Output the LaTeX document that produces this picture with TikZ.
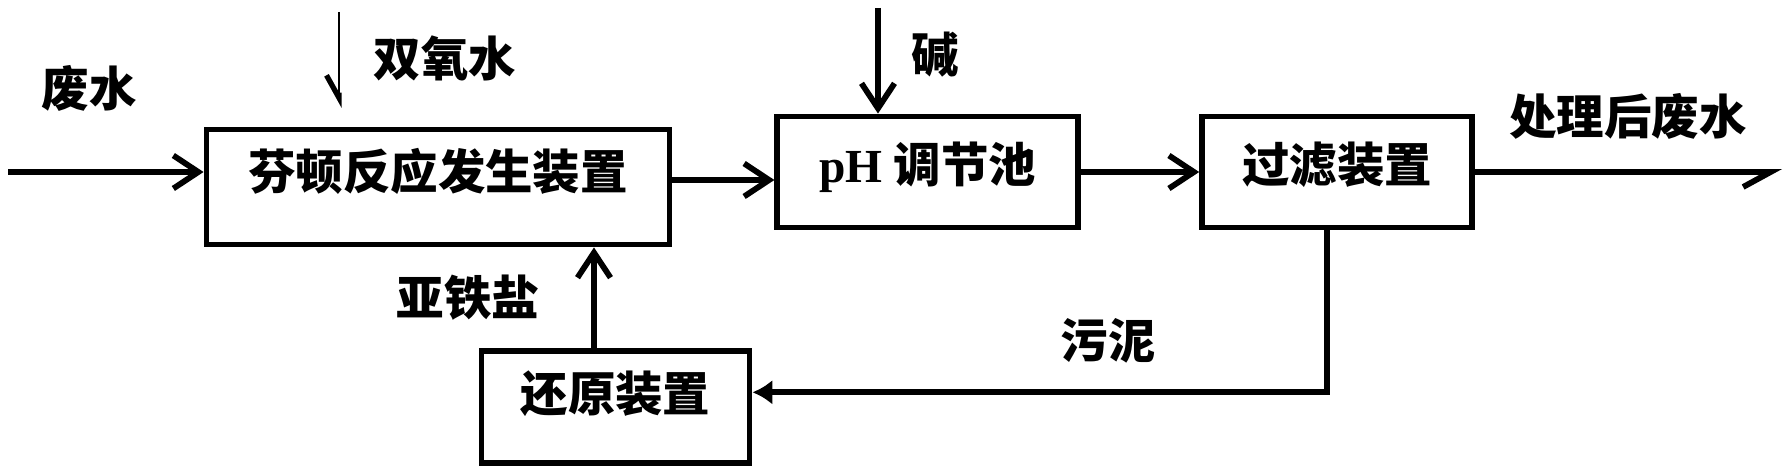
\documentclass[tikz,border=0pt]{standalone}
\usepackage{fontspec}
\setmainfont{Liberation Serif}
\newfontfamily\cjk{Noto Sans CJK SC}
\newcommand{\zhfont}{\cjk\bfseries\fontsize{27pt}{31pt}\selectfont}
\usepackage{tikz}
\usetikzlibrary{arrows.meta, positioning}

\begin{document}
\begin{tikzpicture}[>=Latex,
  box/.style={rectangle, draw, line width=3.3pt, inner sep=0pt, font=\zhfont},
  tag/.style={font=\zhfont},
  flow/.style={line width=3.3pt, -{Straight Barb[length=0.5cm, width=0.66cm]}},
  feed/.style={line width=0.9pt, -{Straight Barb[right, length=0.45cm, width=0.5cm, line width=3pt]}},
  drainline/.style={line width=3.3pt, -{Straight Barb[right, length=0.55cm, width=0.6cm]}}]
\useasboundingbox (0,0) rectangle (35.78,-9.36);

\node (fenton) [box, minimum width=9.26cm, minimum height=2.3cm, text height=0.5cm, text depth=0.4cm] at (8.76,-3.74) {芬顿反应发生装置};
\node (ph)     [box, right=2.04cm of fenton, yshift=0.3cm, minimum width=6.02cm, minimum height=2.22cm, text height=0.7cm, text depth=0.28cm] {{\fontspec{Liberation Serif}pH} 调节池};
\node (filter) [box, right=2.36cm of ph, minimum width=5.4cm, minimum height=2.22cm, text height=0.7cm, text depth=0.28cm] {过滤装置};
\node (reduce) [box, below=2.02cm of fenton, xshift=3.55cm, minimum width=5.36cm, minimum height=2.24cm, text height=0.55cm, text depth=0.39cm] {还原装置};

\node (wastein) [tag] at (1.78,-1.76) {废水};
\node (h2o2)    [tag] at (8.9,-1.16) {双氧水};
\node (alkali)  [tag] at (18.7,-1.1) {碱};
\node (treated) [tag] at (32.56,-2.32) {处理后废水};
\node (sludge)  [tag] at (22.16,-6.82) {污泥};
\node (ferrous) [tag] at (9.36,-5.96) {亚铁盐};

\coordinate (src) at (0.17,-3.44);
\coordinate (h2o2top) at (6.78,-0.24);
\coordinate (h2o2end) at (6.78,-2.16);
\coordinate (alkalitop) at (17.56,-0.16);
\coordinate (drain) at (35.64,-3.46);

\draw[flow] (src) -- (src -| fenton.west);
\draw[feed] (h2o2top) -- (h2o2end);
\draw[flow] (alkalitop) -- (alkalitop |- ph.north);
\draw[flow] ([yshift=0.14cm]fenton.east) -- ([yshift=0.14cm]fenton.east -| ph.west);
\draw[flow] (ph) -- (filter);
\draw[drainline] (filter.east) -- (filter.east -| drain);
\draw[line width=3.3pt, -{Latex[length=0.4cm, width=0.5cm]}] ([xshift=-0.2cm]filter.south) |- ([yshift=0.3cm]reduce.east);
\draw[flow] ([xshift=-0.43cm]reduce.north) -- ([xshift=-0.43cm]reduce.north |- fenton.south);
\end{tikzpicture}
\end{document}
